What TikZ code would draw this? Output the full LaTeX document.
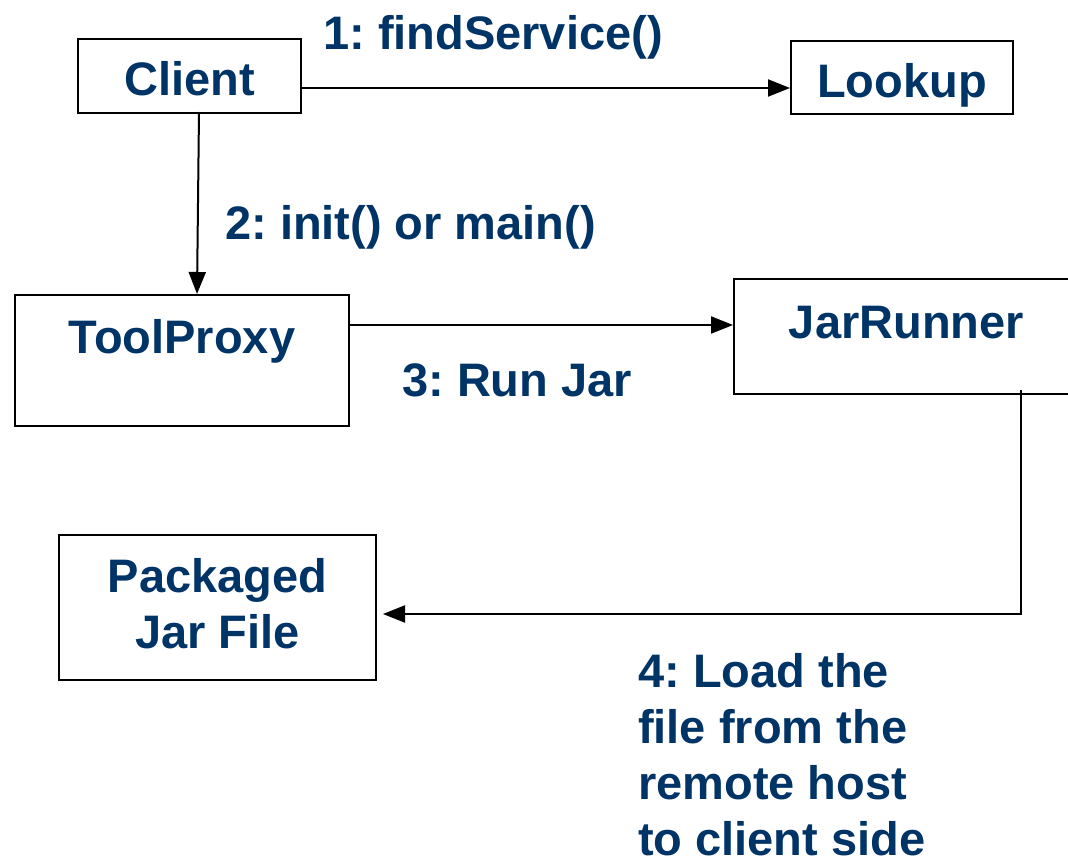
\documentclass[tikz,border=0pt]{standalone}
\usepackage{fontspec}
\setmainfont{Liberation Sans}
\usetikzlibrary{arrows.meta}
\definecolor{navy}{HTML}{003366}
\frenchspacing
\begin{document}
\begin{tikzpicture}[x=1pt,y=-1pt,
  txt/.style={font=\fontsize{47}{56}\selectfont\bfseries\frenchspacing, text=navy, inner sep=0pt},
  box/.style={draw, line width=2pt, inner sep=0pt, txt, anchor=north west},
  conn/.style={line width=2pt, -{Triangle[length=22pt,width=17pt]}}]
\useasboundingbox (0,0) rectangle (1068,863);
\begin{scope}
\clip (0,0) rectangle (1068,863);
\node[box, minimum width=223pt, minimum height=74pt, text height=38.6pt, text depth=0pt] (client) at (77,38) {Client};
\node[box, minimum width=222pt, minimum height=73pt, text height=40pt, text depth=0pt] (lookup) at (790,40) {Lookup};
\node[box, minimum width=334pt, minimum height=131pt, text height=34pt, text depth=49pt] (toolproxy) at (14,294) {ToolProxy};
\node[box, minimum width=345pt, minimum height=115pt, text height=34pt, text depth=31pt, xshift=-4pt] (jarrunner) at (737,278) {JarRunner};
\node[box, minimum width=317pt, minimum height=145pt, align=center] (packaged) at (58,534) {Packaged\\Jar File\rule[-8pt]{0pt}{8pt}};
\end{scope}
\coordinate (jr) at (1021,390);
\coordinate (turn) at (1021,614);
\coordinate (pk) at (375,614);
\draw[conn] (client.east |- 0,88) -- (lookup.west |- 0,88);
\draw[conn] (199,112) coordinate (c1) -- (197,294) coordinate (t1);
\draw[conn] (toolproxy.east |- 0,325) -- (jarrunner.west |- 0,325);
\draw[conn, shorten >=8pt] (jr) -- (turn) -- (pk);
\node[txt, anchor=base west] (l1) at (323,49.3) {1: findService()};
\node[txt, anchor=base west] (l2) at (225,239.3) {2: init() or main()};
\node[txt, anchor=base west] (l3) at (402,396.7) {3: Run Jar};
\node[txt, anchor=north west, align=left] (l4) at (638,653) {4: Load the\\file from the\\remote host\\to client side};
\end{tikzpicture}
\end{document}
